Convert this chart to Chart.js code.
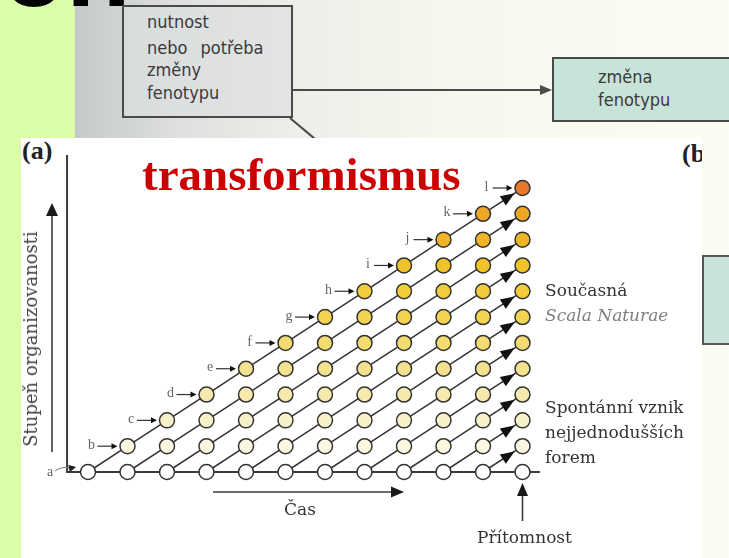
<!DOCTYPE html>
<html>
<head>
<meta charset="utf-8">
<script src="https://cdn.jsdelivr.net/npm/chart.js@4.4.0/dist/chart.umd.min.js"></script>
<style>
  body { margin:0; width:729px; height:558px; overflow:hidden; position:relative;
    background: linear-gradient(90deg, #c4c8c9 75px, #dcdfdd 170px, #eceee8 290px, #f7f7ee 450px, #fcfcf2 729px); }
  .abs { position:absolute; white-space:nowrap; line-height:1; }
  .sans { font-family:"Liberation Sans Narrow","DejaVu Sans Condensed","Liberation Sans",sans-serif; font-size:18px; color:#3a3a3a; }
  .serif { font-family:"DejaVu Serif","Liberation Serif",serif; font-size:17px; color:#333; }
  #panel { position:absolute; left:21px; top:138px; width:681px; height:420px; background:#fff; overflow:hidden; z-index:1; }
  #c { position:absolute; left:0; top:0; z-index:2; }
  .top { z-index:3; }
</style>
</head>
<body>
<div class="abs" style="left:0;top:0;width:75px;height:138px;background:#dbfca8"></div>
<div class="abs" style="left:0;top:138px;width:21px;height:420px;background:#dbfca8"></div>
<div class="abs" style="left:2px;top:-90px;font:bold 105px 'Liberation Sans',Arial,sans-serif;color:#000">on</div>

<!-- upper scheme, partly hidden by the panel -->
<div class="abs" style="left:122px;top:5px;width:171px;height:113px;box-sizing:border-box;border:2px solid #4a4a4a;background:linear-gradient(90deg,#d9dcdc,#e3e5e4)"></div>
<div class="abs sans" style="left:147px;top:13px">nutnost</div>
<div class="abs sans" style="left:147px;top:39px;word-spacing:8px">nebo potřeba</div>
<div class="abs sans" style="left:147px;top:61px">změny</div>
<div class="abs sans" style="left:147px;top:84px">fenotypu</div>
<div class="abs" style="left:293px;top:89px;width:248px;height:2px;background:#4a4a4a"></div>
<div class="abs" style="left:540px;top:85px;width:0;height:0;border-top:5px solid transparent;border-bottom:5px solid transparent;border-left:12px solid #4a4a4a"></div>
<div class="abs" style="left:290px;top:117px;width:36px;height:2px;background:#4a4a4a;transform-origin:0 50%;transform:rotate(40deg)"></div>
<div class="abs" style="left:552px;top:57px;width:190px;height:65px;box-sizing:border-box;border:2px solid #4a4a4a;background:#c8e4d9"></div>
<div class="abs sans" style="left:598px;top:68px">změna</div>
<div class="abs sans" style="left:598px;top:91px">fenotypu</div>
<div class="abs" style="left:702px;top:255px;width:40px;height:90px;box-sizing:border-box;border:2px solid #555;background:#c8e4d9"></div>

<div id="panel">
  <div class="abs" style="left:1px;top:-2px;font:bold 26px 'Liberation Serif',serif;color:#222">(a)</div>
  <div class="abs" style="left:661px;top:1px;font:bold 26px 'Liberation Serif',serif;color:#222">(b)</div>
</div>

<canvas id="c" width="729" height="558"></canvas>

<div class="abs top" style="left:142px;top:147px;font:bold 47px 'Liberation Serif',serif;color:#cc0000">transformismus</div>
<div class="abs top serif" style="left:31px;top:339px;transform:translate(-50%,-50%) rotate(-90deg);color:#444;font-size:18px">Stupeň organizovanosti</div>
<div class="abs top serif" style="left:545px;top:282px">Současná</div>
<div class="abs top serif" style="left:545px;top:307px;font-style:italic;color:#808080">Scala Naturae</div>
<div class="abs top serif" style="left:545px;top:399px">Spontánní vznik</div>
<div class="abs top serif" style="left:545px;top:424px">nejjednodušších</div>
<div class="abs top serif" style="left:545px;top:449px">forem</div>
<div class="abs top serif" style="left:284px;top:501px">Čas</div>
<div class="abs top serif" style="left:477px;top:529px">Přítomnost</div>

<script>
// forms on the leading diagonal, one per time step
const stages = ['a', 'b', 'c', 'd', 'e', 'f', 'g', 'h', 'i', 'j', 'k', 'l'];
const timeSteps = [0, 1, 2, 3, 4, 5, 6, 7, 8, 9, 10, 11];
const levels = [0, 1, 2, 3, 4, 5, 6, 7, 8, 9, 10, 11];
// each diagonal starts with a spontaneous form at level 0
const lineStarts = [0, 1, 2, 3, 4, 5, 6, 7, 8, 9, 10, 11];
const levelColors = ['#ffffff', '#fbf7e1', '#f8f0c9', '#f6e9ad', '#f4e290', '#f3db70',
  '#f2d453', '#f1cc3c', '#f0c32a', '#efb526', '#eea722', '#e8782a'];

const xRange = [-2.228, 16.228];
const yRange = [-3.331, 18.282];

function tri(ctx, tx, ty, ux, uy, L, W) {
  ctx.beginPath();
  ctx.moveTo(tx, ty);
  ctx.lineTo(tx - ux * L - uy * W, ty - uy * L + ux * W);
  ctx.lineTo(tx - ux * L + uy * W, ty - uy * L - ux * W);
  ctx.closePath();
  ctx.fill();
}

const decor = {
  id: 'decor',
  beforeDatasetsDraw(chart) {
    const ctx = chart.ctx, xs = chart.scales.x, ys = chart.scales.y;
    const x0 = xs.getPixelForValue(-0.53), y0 = ys.getPixelForValue(0);
    ctx.save();
    ctx.strokeStyle = '#3a3a3a';
    ctx.fillStyle = '#1a1a1a';
    ctx.lineWidth = 2;
    ctx.beginPath();
    ctx.moveTo(x0, ys.getPixelForValue(12.28));
    ctx.lineTo(x0, y0);
    ctx.lineTo(xs.getPixelForValue(11.44), y0);
    ctx.stroke();

    // axis arrows
    ctx.lineWidth = 1.6;
    ctx.beginPath(); ctx.moveTo(52, 452); ctx.lineTo(52, 214); ctx.stroke();
    tri(ctx, 52, 203, 0, -1, 13, 6);
    ctx.beginPath(); ctx.moveTo(213, 492); ctx.lineTo(393, 492); ctx.stroke();
    tri(ctx, 404, 492, 1, 0, 13, 5.5);
    const xp = xs.getPixelForValue(11);
    ctx.beginPath(); ctx.moveTo(xp, 521); ctx.lineTo(xp, 494); ctx.stroke();
    tri(ctx, xp, 483, 0, -1, 13, 5.5);

    // "a" leader
    ctx.lineWidth = 1;
    ctx.strokeStyle = '#777';
    ctx.beginPath();
    ctx.moveTo(x0 - 12, y0 - 1);
    ctx.quadraticCurveTo(x0 - 5, y0 - 6, x0 + 2, y0 - 4);
    ctx.stroke();
    tri(ctx, x0 + 9, y0 - 5, 1, -0.2, 7, 3.5);
    ctx.restore();
  },
  afterDatasetsDraw(chart) {
    const ctx = chart.ctx, xs = chart.scales.x, ys = chart.scales.y;
    ctx.save();
    ctx.fillStyle = '#111';
    chart.data.datasets.forEach((ds, i) => {
      const pts = chart.getDatasetMeta(i).data;
      if (pts.length < 2) return;
      const p = pts[pts.length - 1], q = pts[pts.length - 2];
      const dx = p.x - q.x, dy = p.y - q.y, len = Math.hypot(dx, dy);
      const ux = dx / len, uy = dy / len;
      tri(ctx, p.x - ux * 9.5, p.y - uy * 9.5, ux, uy, 14, 5.5);
    });
    ctx.font = '14px "Liberation Serif", serif';
    ctx.textAlign = 'center';
    ctx.textBaseline = 'middle';
    ctx.strokeStyle = '#333';
    ctx.lineWidth = 1.2;
    stages.forEach((s, j) => {
      const px = xs.getPixelForValue(timeSteps[j]), py = ys.getPixelForValue(levels[j]);
      ctx.fillStyle = '#666';
      if (j === 0) {
        ctx.fillText(s, px - 38, py);
        return;
      }
      ctx.fillText(s, px - 36, py - 1);
      ctx.beginPath(); ctx.moveTo(px - 30, py); ctx.lineTo(px - 15, py); ctx.stroke();
      ctx.fillStyle = '#111';
      tri(ctx, px - 10, py, 1, 0, 6, 3);
    });
    ctx.restore();
  }
};

const datasets = lineStarts.map(k => {
  const pts = levels.filter(j => k + j <= timeSteps[timeSteps.length - 1])
    .map(j => ({ x: timeSteps[k + j], y: levels[j] }));
  return {
    data: pts,
    showLine: true,
    borderColor: '#333',
    borderWidth: 1.5,
    pointRadius: 7.5,
    pointBorderWidth: 1.5,
    pointBorderColor: '#333',
    pointBackgroundColor: pts.map(p => levelColors[p.y])
  };
});

new Chart(document.getElementById('c'), {
  type: 'scatter',
  data: { datasets },
  options: {
    responsive: false,
    animation: false,
    devicePixelRatio: 1,
    layout: { padding: 0, autoPadding: false },
    plugins: { legend: { display: false }, tooltip: { enabled: false } },
    scales: {
      x: { type: 'linear', display: false, min: xRange[0], max: xRange[1] },
      y: { type: 'linear', display: false, min: yRange[0], max: yRange[1] }
    }
  },
  plugins: [decor]
});
</script>
</body>
</html>
